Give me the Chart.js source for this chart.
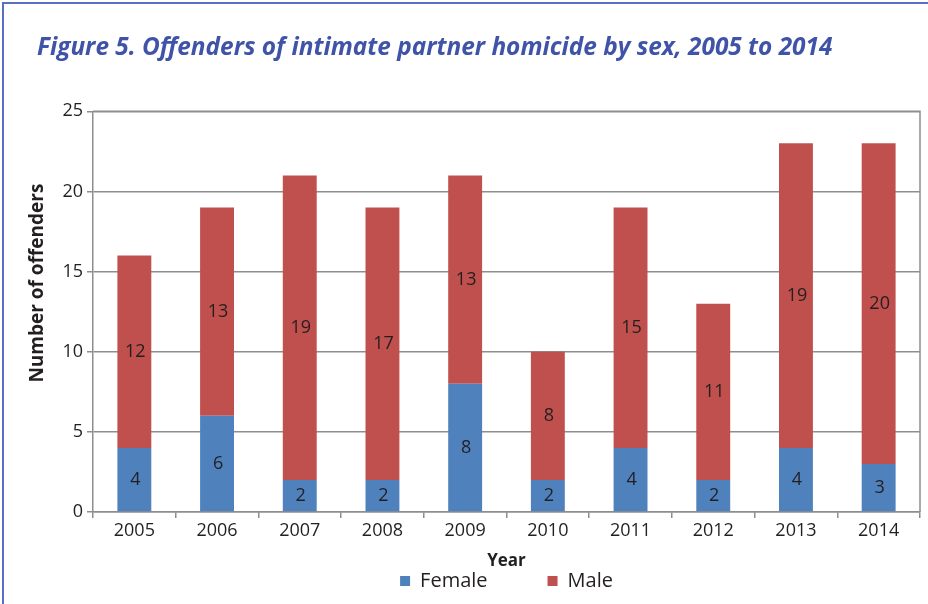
<!DOCTYPE html>
<html>
<head>
<meta charset="utf-8">
<script src="https://cdn.jsdelivr.net/npm/chart.js@4"></script>
<style>
  html, body { margin: 0; padding: 0; background: #fff; }
  #wrap { position: relative; width: 928px; height: 604px; overflow: hidden; }
  #frame { position: absolute; left: 2px; top: 2px; width: 960px; height: 640px;
           border-left: 2px solid #5b6fc2; border-top: 2px solid #5b6fc2; }
  canvas { position: absolute; left: 0; top: 0; }
</style>
</head>
<body>
<div id="wrap">
  <div id="frame"></div>
  <canvas id="chart" width="928" height="604"></canvas>
</div>
<script>
const years = ['2005', '2006', '2007', '2008', '2009', '2010', '2011', '2012', '2013', '2014'];
const female = [4, 6, 2, 2, 8, 2, 4, 2, 4, 3];
const male = [12, 13, 19, 17, 13, 8, 15, 11, 19, 20];
const yTicks = [0, 5, 10, 15, 20, 25];

const textColor = '#231f20';
const gridColor = '#8e8e8e';

// numbers in the middle of each bar segment
const barLabels = {
    id: 'barLabels',
    afterDatasetsDraw(chart) {
        const ctx = chart.ctx;
        ctx.save();
        ctx.font = '18px "Open Sans"';
        ctx.fillStyle = textColor;
        ctx.textAlign = 'center';
        ctx.textBaseline = 'middle';
        chart.data.datasets.forEach((ds, i) => {
            chart.getDatasetMeta(i).data.forEach((bar, j) => {
                const p = bar.getCenterPoint();
                ctx.fillText(String(ds.data[j]), p.x + 1, p.y);
            });
        });
        ctx.restore();
    }
};

// grey box round the plot area
const plotBorder = {
    id: 'plotBorder',
    beforeDatasetsDraw(chart) {
        const a = chart.chartArea;
        const ctx = chart.ctx;
        ctx.save();
        ctx.strokeStyle = gridColor;
        ctx.lineWidth = 1.5;
        ctx.beginPath();
        ctx.moveTo(a.left, a.top);
        ctx.lineTo(a.right, a.top);
        ctx.lineTo(a.right, a.bottom);
        ctx.stroke();
        ctx.restore();
    }
};

new Chart(document.getElementById('chart').getContext('2d'), {
    type: 'bar',
    data: {
        labels: years,
        datasets: [{
            label: 'Female',
            data: female,
            backgroundColor: '#4f81bd'
        }, {
            label: 'Male',
            data: male,
            backgroundColor: '#c0504d'
        }]
    },
    options: {
        responsive: false,
        animation: false,
        layout: { padding: { left: 37, right: 8, top: 0, bottom: 3 } },
        datasets: {
            bar: { categoryPercentage: 1, barPercentage: 0.41 }
        },
        scales: {
            x: {
                stacked: true,
                grid: { drawOnChartArea: false, tickLength: 6, color: gridColor, lineWidth: 1.5 },
                border: { color: gridColor, width: 1.5 },
                ticks: { color: textColor, font: { family: 'Open Sans', size: 18 }, padding: 2 },
                title: {
                    display: true,
                    text: 'Year',
                    color: textColor,
                    font: { family: 'Open Sans', size: 17, weight: 'bold' },
                    padding: { top: 7, bottom: 0 }
                }
            },
            y: {
                stacked: true,
                min: 0,
                max: 25,
                afterFit(scale) { scale.width = 56; },
                afterBuildTicks(scale) { scale.ticks = yTicks.map(v => ({ value: v })); },
                grid: { color: gridColor, lineWidth: 1.5, tickLength: 6 },
                border: { color: gridColor, width: 1.5 },
                ticks: { color: textColor, font: { family: 'Open Sans', size: 18 }, padding: 4 },
                title: {
                    display: true,
                    // leading en spaces lift the label above the axis centre, as in the original
                    text: '\u2002\u2002\u2002\u2002\u2002\u2002Number of offenders',
                    color: textColor,
                    font: { family: 'Open Sans', size: 19, weight: 'bold' },
                    padding: { top: -11, bottom: 0 }
                }
            }
        },
        plugins: {
            title: {
                display: true,
                align: 'start',
                text: 'Figure 5. Offenders of intimate partner homicide by sex, 2005 to 2014',
                color: '#3f53a8',
                font: { family: 'Open Sans', size: 24.4, weight: 'bold', style: 'italic' },
                padding: { top: 33, bottom: 49 }
            },
            legend: {
                position: 'bottom',
                fullSize: false,
                labels: {
                    color: textColor,
                    font: { family: 'Open Sans', size: 20 },
                    boxWidth: 10,
                    boxHeight: 10,
                    padding: 0,
                    generateLabels(chart) {
                        // en spaces after the first name widen the gap between the two entries
                        const items = Chart.defaults.plugins.legend.labels.generateLabels(chart);
                        items[0].text += '\u2002\u2002\u2002\u2002\u2002\u2002';
                        return items;
                    }
                }
            },
            tooltip: { enabled: false }
        }
    },
    plugins: [barLabels, plotBorder]
});
</script>
</body>
</html>
